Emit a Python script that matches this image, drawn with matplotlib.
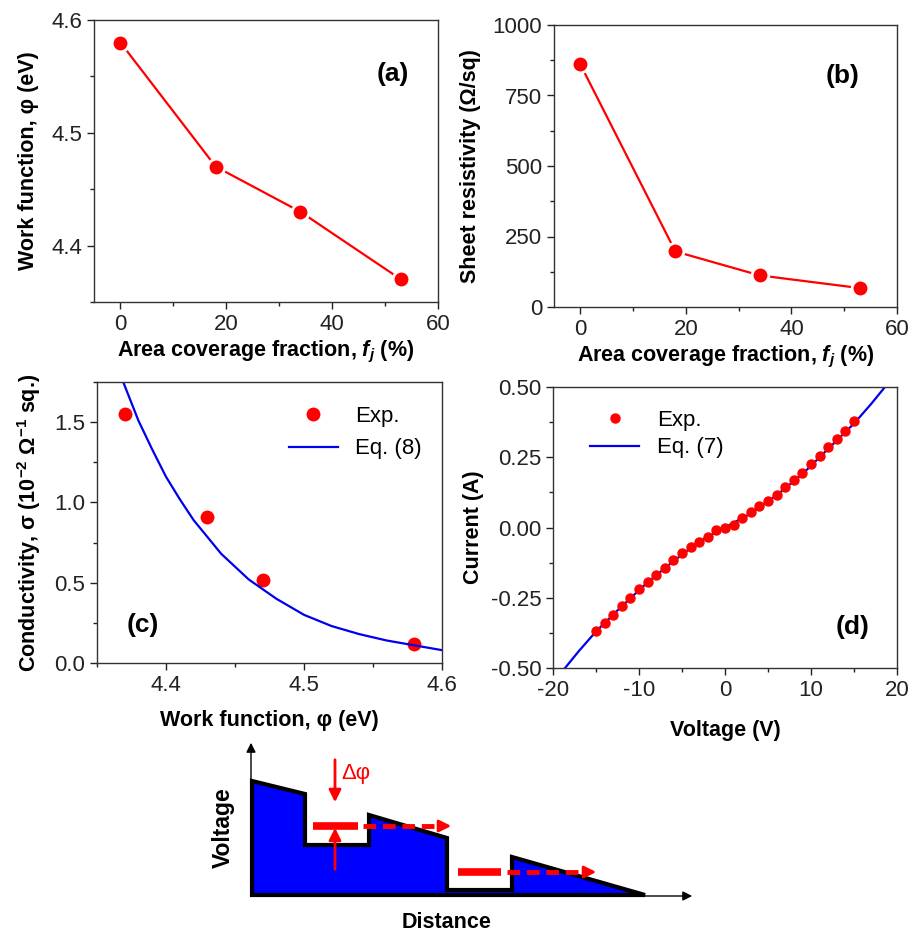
import numpy as np
import matplotlib.pyplot as plt
from matplotlib.ticker import MultipleLocator
from matplotlib.patches import Polygon

plt.rcParams['font.family'] = ['Liberation Sans', 'DejaVu Sans']
plt.rcParams['mathtext.fontset'] = 'custom'
plt.rcParams['mathtext.rm'] = 'Liberation Sans:bold'
plt.rcParams['mathtext.it'] = 'Liberation Sans:italic:bold'
plt.rcParams['mathtext.bf'] = 'Liberation Sans:bold'
plt.rcParams['axes.unicode_minus'] = False

# (a) and (b): vs area coverage fraction
coverage = [0, 18, 34, 53]
work_fn = [4.58, 4.47, 4.43, 4.37]
sheet_res = [860, 197, 112, 67]

# (c) conductivity vs work function
phi_exp = [4.37, 4.43, 4.47, 4.58]
sigma_exp = [1.55, 0.91, 0.52, 0.12]
phi_fit = [4.369, 4.38, 4.39, 4.40, 4.41, 4.42, 4.44, 4.46, 4.48, 4.50, 4.52, 4.54, 4.56, 4.58, 4.60]
sigma_fit = [1.75, 1.51, 1.33, 1.16, 1.02, 0.89, 0.68, 0.52, 0.40, 0.30, 0.23, 0.18, 0.14, 0.11, 0.08]

# (d) I-V
volt_exp = list(range(-15, 16))
curr_exp = [-0.37, -0.34, -0.31, -0.28, -0.25, -0.22, -0.195, -0.17, -0.145, -0.115, -0.09,
            -0.07, -0.05, -0.035, -0.01, 0.0, 0.01, 0.035, 0.055, 0.075, 0.095, 0.115, 0.145,
            0.17, 0.195, 0.225, 0.255, 0.285, 0.315, 0.345, 0.38]
volt_fit = [-18.6, -17, -15, -12, -9, -6, -3, 0, 3, 6, 9, 12, 15, 17, 18.6]
curr_fit = [-0.5, -0.44, -0.37, -0.28, -0.195, -0.12, -0.05, 0.0, 0.05, 0.115, 0.19, 0.28, 0.37, 0.44, 0.5]

# schematic: distance / voltage profile
prof_x = [0, 53, 53, 117, 117, 195, 195, 260, 260, 393, 0]
prof_y = [114, 101, 50, 50, 80, 57, 5, 5, 38, 0, 0]

W, H = 912, 934
fig = plt.figure(figsize=(W / 100, H / 100), dpi=100)

def box(l, r, t, b):
    return [l / W, (H - b) / H, (r - l) / W, (b - t) / H]

def style(ax):
    ax.tick_params(which='both', direction='out', top=False, right=False,
                   labelsize=16, colors='#222222', width=1)
    ax.tick_params(which='major', length=5)
    ax.tick_params(which='minor', length=3)
    for s in ax.spines.values():
        s.set_color('#333333')
        s.set_linewidth(1)

lab = dict(fontsize=15.5, fontweight='bold')
xlab_fj = 'Area coverage fraction, $f_j$ (%)'
tag = dict(fontsize=19, fontweight='bold', ha='center', va='center')

# (a)
ax = fig.add_axes(box(94, 438, 20, 302))
ax.plot(coverage, work_fn, '-o', color='red', lw=1.6, ms=12, mec='white', mew=2)
ax.set_xlim(-5, 60)
ax.set_ylim(4.35, 4.6)
ax.xaxis.set_major_locator(MultipleLocator(20))
ax.xaxis.set_minor_locator(MultipleLocator(10))
ax.yaxis.set_major_locator(MultipleLocator(0.1))
ax.yaxis.set_minor_locator(MultipleLocator(0.05))
style(ax)
ax.set_xlabel(xlab_fj, labelpad=3, **lab)
ax.set_ylabel('Work function, φ (eV)', labelpad=9, **lab)
ax.text(0.87, 0.81, '(a)', transform=ax.transAxes, **tag)

# (b)
ax = fig.add_axes(box(554, 897, 25, 307))
ax.plot(coverage, sheet_res, '-o', color='red', lw=1.6, ms=12, mec='white', mew=2)
ax.set_xlim(-5, 60)
ax.set_ylim(0, 1000)
ax.xaxis.set_major_locator(MultipleLocator(20))
ax.xaxis.set_minor_locator(MultipleLocator(10))
ax.yaxis.set_major_locator(MultipleLocator(250))
ax.yaxis.set_minor_locator(MultipleLocator(125))
style(ax)
ax.set_xlabel(xlab_fj, labelpad=3, **lab)
ax.set_ylabel('Sheet resistivity (Ω/sq)', labelpad=8, **lab)
ax.text(0.84, 0.82, '(b)', transform=ax.transAxes, **tag)

# (c)
ax = fig.add_axes(box(97, 442, 382, 663))
ax.plot(phi_exp, sigma_exp, 'o', color='red', ms=11, mec='white', mew=1, label='Exp.')
ax.plot(phi_fit, sigma_fit, '-', color='#0000ee', lw=1.6, label='Eq. (8)')
ax.set_xlim(4.35, 4.6)
ax.set_ylim(0, 1.75)
ax.xaxis.set_major_locator(MultipleLocator(0.1))
ax.xaxis.set_minor_locator(MultipleLocator(0.05))
ax.yaxis.set_major_locator(MultipleLocator(0.5))
ax.yaxis.set_minor_locator(MultipleLocator(0.25))
style(ax)
ax.set_xlabel('Work function, φ (eV)', labelpad=10, **lab)
ax.set_ylabel('Conductivity, σ (10$^{-2}$ Ω$^{-1}$ sq.)', labelpad=8, **lab)
ax.legend(loc='upper right', frameon=False, fontsize=16, handlelength=2.2,
          bbox_to_anchor=(1.0, 0.985), labelspacing=0.5)
ax.text(0.133, 0.135, '(c)', transform=ax.transAxes, **tag)

# (d)
ax = fig.add_axes(box(553, 897, 387, 668))
ax.plot(volt_exp, curr_exp, 'o', color='red', ms=6.5, mec='red', label='Exp.', zorder=3)
ax.plot(volt_fit, curr_fit, '-', color='#0000ee', lw=1.6, label='Eq. (7)')
ax.set_xlim(-20, 20)
ax.set_ylim(-0.5, 0.5)
ax.xaxis.set_major_locator(MultipleLocator(10))
ax.xaxis.set_minor_locator(MultipleLocator(5))
ax.yaxis.set_major_locator(MultipleLocator(0.25))
ax.yaxis.set_minor_locator(MultipleLocator(0.125))
ax.yaxis.set_major_formatter(plt.FormatStrFormatter('%.2f'))
style(ax)
ax.set_xlabel('Voltage (V)', labelpad=14, **lab)
ax.set_ylabel('Current (A)', labelpad=5, **lab)
ax.legend(loc='upper left', frameon=False, fontsize=16, handlelength=2.2,
          bbox_to_anchor=(0.05, 0.99), labelspacing=0.3)
ax.text(0.87, 0.146, '(d)', transform=ax.transAxes, **tag)

# schematic
ax = fig.add_axes(box(200, 720, 735, 934))
ax.set_xlim(-52, 468)
ax.set_ylim(-39, 160)
ax.axis('off')
ax.add_patch(Polygon(list(zip(prof_x, prof_y)), closed=True, facecolor='#0000ff',
                     edgecolor='black', lw=3, joinstyle='miter'))
ax.annotate('', xy=(-1, 155), xytext=(-1, -1),
            arrowprops=dict(arrowstyle='-|>', color='black', lw=1, mutation_scale=14))
ax.annotate('', xy=(443, -1), xytext=(-2, -1),
            arrowprops=dict(arrowstyle='-|>', color='black', lw=1, mutation_scale=14))
ax.annotate('', xy=(83, 90), xytext=(83, 138),
            arrowprops=dict(arrowstyle='-|>', color='red', lw=2, mutation_scale=18))
ax.annotate('', xy=(83, 70), xytext=(83, 23),
            arrowprops=dict(arrowstyle='-|>', color='red', lw=2, mutation_scale=18))
ax.text(89, 122, 'Δφ', color='red', fontsize=16, va='center')
ax.plot([61, 106], [69, 69], color='red', lw=5.5, solid_capstyle='butt')
ax.plot([111, 193], [69, 69], color='red', lw=3.5, ls=(0, (2.6, 1.4)))
ax.annotate('', xy=(202, 69), xytext=(190, 69),
            arrowprops=dict(arrowstyle='-|>', color='red', lw=2, mutation_scale=18))
ax.plot([206, 249], [23, 23], color='red', lw=5.5, solid_capstyle='butt')
ax.plot([255, 337], [23, 23], color='red', lw=3.5, ls=(0, (2.6, 1.4)))
ax.annotate('', xy=(347, 23), xytext=(335, 23),
            arrowprops=dict(arrowstyle='-|>', color='red', lw=2, mutation_scale=18))
ax.text(-29, 67, 'Voltage', rotation=90, fontsize=16.5, fontweight='bold', ha='center', va='center')
ax.text(195, -27, 'Distance', fontsize=15.5, fontweight='bold', ha='center', va='center')

fig.savefig('out.png', dpi=100)
